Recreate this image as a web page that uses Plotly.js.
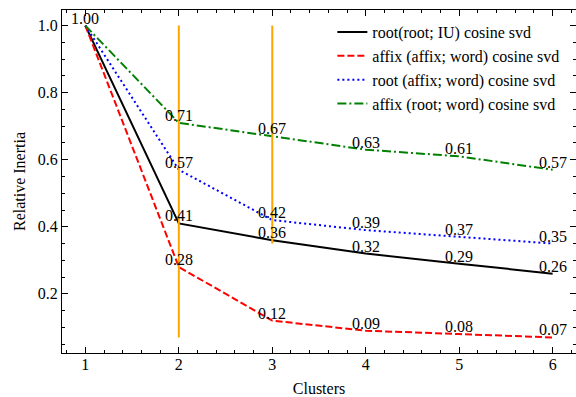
<!DOCTYPE html>
<html>
<head>
<meta charset="utf-8">
<script src="https://cdn.plot.ly/plotly-3.0.1.min.js"></script>
<style>html,body{margin:0;padding:0;background:#fff;}#chart{width:576px;height:397px;}</style>
</head>
<body>
<div id="chart"></div>
<script>
const clusters = [1, 2, 3, 4, 5, 6];
const seriesNames = [
  "root(root; IU) cosine svd",
  "affix (affix; word) cosine svd",
  "root (affix; word) cosine svd",
  "affix (root; word) cosine svd"
];
const rootRootIU = [1.00, 0.41, 0.36, 0.32, 0.29, 0.26];
const affixAffixWord = [1.00, 0.28, 0.12, 0.09, 0.08, 0.07];
const rootAffixWord = [1.00, 0.57, 0.42, 0.39, 0.37, 0.35];
const affixRootWord = [1.00, 0.71, 0.67, 0.63, 0.61, 0.57];
const seriesValues = [rootRootIU, affixAffixWord, rootAffixWord, affixRootWord];
const vlineX = [2, 3];
const vlineLow = [0.07, 0.35];
const vlineHigh = [1.00, 1.00];

const colors = ["#000000", "#ff0000", "#0000ff", "#008000"];
const dashes = ["solid", "7px,3px", "2px,3px", "9px,3px,2px,3px"];
const FONT = "Times New Roman, Liberation Serif, DejaVu Serif, serif";

const traces = seriesValues.map((vals, i) => ({
  x: clusters, y: vals, type: "scatter", mode: "lines",
  name: seriesNames[i],
  line: {color: colors[i], width: 2, dash: dashes[i]}
}));
vlineX.forEach((xv, i) => {
  traces.push({
    x: [xv, xv], y: [vlineLow[i], vlineHigh[i]], type: "scatter", mode: "lines",
    showlegend: false, hoverinfo: "skip",
    line: {color: "#ffa500", width: 2}
  });
});

const annotations = [];
const seen = new Set();
seriesValues.forEach(vals => {
  vals.forEach((v, j) => {
    const key = clusters[j] + ":" + v.toFixed(2);
    if (seen.has(key)) return;
    seen.add(key);
    annotations.push({
      x: clusters[j], y: v, xref: "x", yref: "y",
      text: v.toFixed(2), showarrow: false,
      xanchor: "center", yanchor: "bottom",
      borderpad: 0, yshift: -2,
      font: {family: FONT, size: 16, color: "#000"}
    });
  });
});

const axisCommon = {
  showgrid: false, zeroline: false, showline: true, linecolor: "#000", linewidth: 1,
  mirror: "allticks", ticks: "inside", ticklen: 6, tickwidth: 1, tickcolor: "#000",
  tickfont: {family: FONT, size: 16, color: "#000"}
};

const layout = {
  width: 576, height: 397,
  margin: {l: 62, r: 0, t: 10, b: 44},
  paper_bgcolor: "#fff", plot_bgcolor: "#fff",
  font: {family: FONT, size: 16, color: "#000"},
  xaxis: Object.assign({}, axisCommon, {
    range: [0.75, 6.25], dtick: 1, tick0: 1,
    ticklabelstandoff: -3,
    minor: {dtick: 0.2, tick0: 1, ticks: "inside", ticklen: 3, tickcolor: "#000", tickwidth: 1},
    title: {text: "Clusters", font: {family: FONT, size: 16, color: "#000"}, standoff: 10}
  }),
  yaxis: Object.assign({}, axisCommon, {
    range: [0.0235, 1.0465], dtick: 0.2, tick0: 0, tickformat: ".1f",
    minor: {dtick: 0.05, tick0: 0, ticks: "inside", ticklen: 3, tickcolor: "#000", tickwidth: 1},
    title: {text: "Relative Inertia", font: {family: FONT, size: 16, color: "#000"}, standoff: 8}
  }),
  legend: {
    x: 0.526, y: 0.985, xanchor: "left", yanchor: "top",
    bgcolor: "rgba(0,0,0,0)", borderwidth: 0,
    font: {family: FONT, size: 16, color: "#000"}
  },
  annotations: annotations,
  showlegend: true
};

Plotly.newPlot("chart", traces, layout, {displayModeBar: false, staticPlot: true});
</script>
</body>
</html>
